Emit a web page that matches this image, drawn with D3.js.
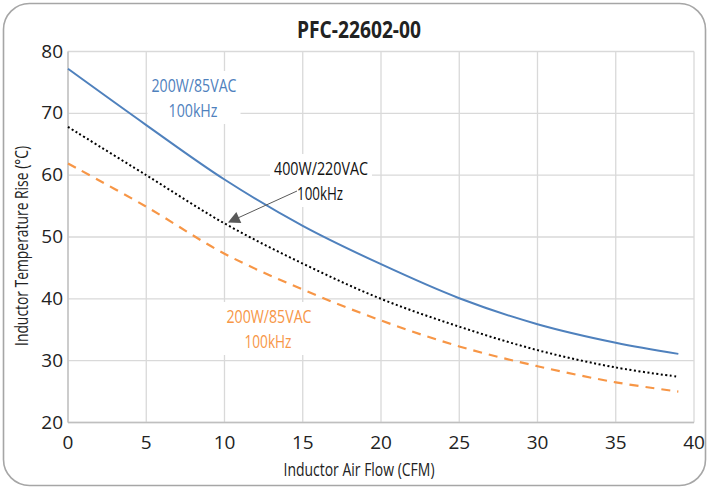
<!DOCTYPE html>
<html><head><meta charset="utf-8">
<script src="https://cdn.jsdelivr.net/npm/d3@7/dist/d3.min.js"></script>
<style>
body{margin:0;background:#fff;}
svg{display:block;}
text{font-family:"Open Sans",sans-serif;}
</style>
</head><body>
<svg id="c" width="709" height="489"></svg>
<script>
const airflow = [0, 5, 10, 15, 20, 25, 30, 35, 39];
const blue200W = [77.2, 68.1, 59.3, 51.8, 45.6, 40.1, 35.9, 32.9, 31.1];
const black400W = [67.8, 60.0, 52.2, 45.7, 40.0, 35.5, 31.7, 28.9, 27.4];
const orange200W = [61.9, 54.9, 47.3, 41.5, 36.5, 32.3, 29.1, 26.5, 25.0];
const xTicks = [0, 5, 10, 15, 20, 25, 30, 35, 40];
const yTicks = [20, 30, 40, 50, 60, 70, 80];
const title = "PFC-22602-00";
const xTitle = "Inductor Air Flow (CFM)";
const yTitle = "Inductor Temperature Rise (°C)";

const svg = d3.select("#c");
const x = d3.scaleLinear().domain([0, 40]).range([68, 694]);
const y = d3.scaleLinear().domain([20, 80]).range([422.5, 51.5]);

// outer rounded border
svg.append("rect").attr("x", 3.5).attr("y", 3.5).attr("width", 702).attr("height", 482)
  .attr("rx", 26).attr("fill", "#fff").attr("stroke", "#a6a6a6").attr("stroke-width", 1.6);

// gridlines
const grid = svg.append("g").attr("stroke", "#d9d9d9").attr("stroke-width", 1.3);
xTicks.forEach(t => grid.append("line").attr("x1", x(t)).attr("x2", x(t)).attr("y1", y(80)).attr("y2", y(20)));
yTicks.forEach(t => grid.append("line").attr("x1", x(0)).attr("x2", x(40)).attr("y1", y(t)).attr("y2", y(t)));
svg.append("line").attr("x1", x(0)).attr("x2", x(40)).attr("y1", y(20)).attr("y2", y(20)).attr("stroke", "#bfbfbf").attr("stroke-width", 1.3);
svg.append("line").attr("x1", x(0)).attr("x2", x(0)).attr("y1", y(80)).attr("y2", y(20)).attr("stroke", "#bfbfbf").attr("stroke-width", 1.3);

// tick labels
svg.append("g").selectAll("text").data(xTicks).join("text")
  .attr("x", d => x(d)).attr("y", 449).attr("text-anchor", "middle")
  .attr("font-size", 19).attr("fill", "#222").text(d => d);
svg.append("g").selectAll("text").data(yTicks).join("text")
  .attr("x", 63).attr("y", d => y(d) + 6).attr("text-anchor", "end")
  .attr("font-size", 19).attr("fill", "#222").text(d => d);

// condensed text helper
function ctext(parent, s, cx, by, size, len, color, bold) {
  return parent.append("text").attr("x", cx).attr("y", by).attr("text-anchor", "middle")
    .attr("font-size", size).attr("font-weight", bold ? "bold" : "normal").attr("fill", color)
    .attr("textLength", len).attr("lengthAdjust", "spacingAndGlyphs").text(s);
}

// titles
ctext(svg, title, 359, 38, 24, 124, "#222", true);
ctext(svg, xTitle, 359, 476, 19, 151, "#222", false);
const yt = svg.append("g").attr("transform", "translate(28,246) rotate(-90)");
ctext(yt, yTitle, 0, 0, 19, 200, "#222", false);

// annotation labels with white background
function label(items, color) {
  const g = svg.append("g");
  const bg = g.append("rect").attr("fill", "#fff");
  const t = g.append("g");
  items.forEach(it => ctext(t, it.s, it.cx, it.by, 19, it.len, color, false));
  const b = t.node().getBBox();
  bg.attr("x", b.x - 4).attr("y", b.y - 1).attr("width", b.width + 8).attr("height", b.height + 2);
  return g;
}

label([{s: "200W/85VAC", cx: 194, by: 92, len: 85}, {s: "100kHz", cx: 193, by: 117, len: 49}], "#4f81bd");
label([{s: "200W/85VAC", cx: 269, by: 323, len: 85}, {s: "100kHz", cx: 268, by: 348, len: 47}], "#f79646");
label([{s: "400W/220VAC", cx: 321, by: 175, len: 94}, {s: "100kHz", cx: 320, by: 200, len: 46}], "#111");

const line = d3.line().x((d, i) => x(airflow[i])).y(d => y(d)).curve(d3.curveCatmullRom.alpha(0.5));

svg.append("path").datum(orange200W).attr("d", line).attr("fill", "none")
  .attr("stroke", "#f79646").attr("stroke-width", 2.2).attr("stroke-dasharray", "9,7");
svg.append("path").datum(black400W).attr("d", line).attr("fill", "none")
  .attr("stroke", "#000").attr("stroke-width", 2).attr("stroke-dasharray", "2,2.5");
svg.append("path").datum(blue200W).attr("d", line).attr("fill", "none")
  .attr("stroke", "#4f81bd").attr("stroke-width", 2);

// arrow
svg.append("defs").append("marker").attr("id", "ah").attr("viewBox", "0 0 10 10")
  .attr("refX", 9).attr("refY", 5).attr("markerWidth", 16).attr("markerHeight", 12)
  .attr("markerUnits", "userSpaceOnUse").attr("orient", "auto")
  .append("path").attr("d", "M0,0 L10,5 L0,10 z").attr("fill", "#595959");
svg.append("line").attr("x1", 297).attr("y1", 191).attr("x2", 229).attr("y2", 222)
  .attr("stroke", "#595959").attr("stroke-width", 1).attr("marker-end", "url(#ah)");
</script>
</body></html>
